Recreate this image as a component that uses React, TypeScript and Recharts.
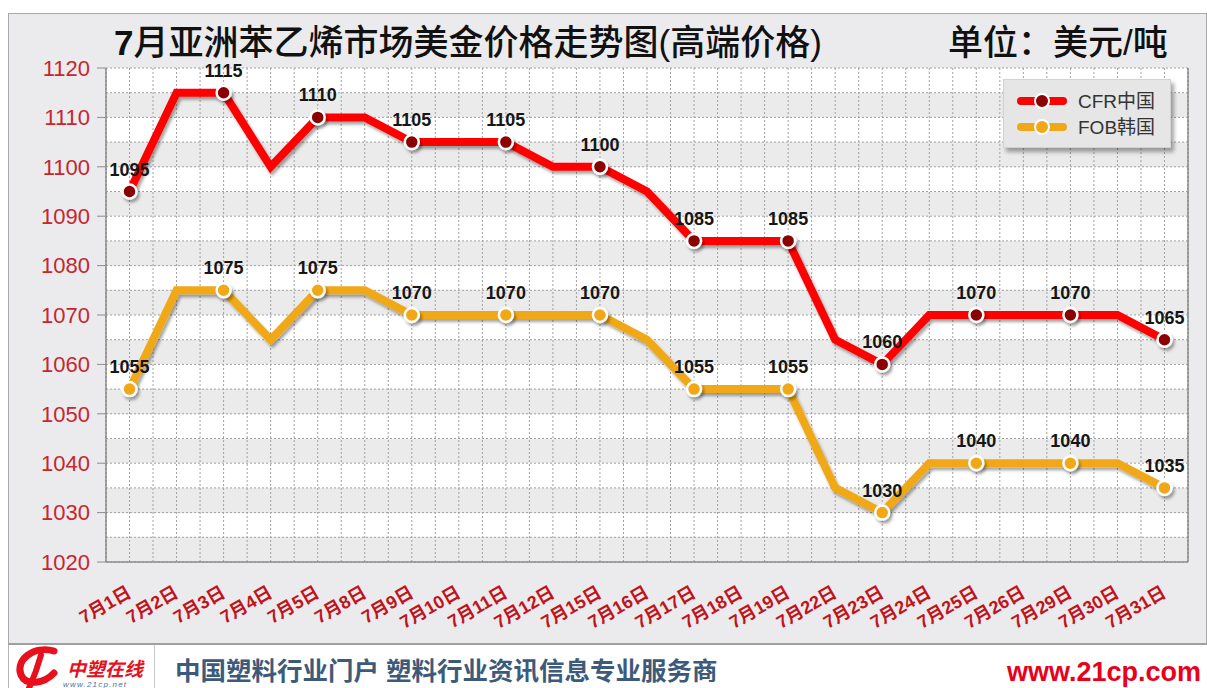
import React from 'react';
import { CartesianGrid, LabelList, Legend, Line, LineChart, ReferenceLine, XAxis, YAxis } from 'recharts';

// trading days shown on the x axis
const dates = [
  '7月1日', '7月2日', '7月3日', '7月4日', '7月5日', '7月8日', '7月9日', '7月10日',
  '7月11日', '7月12日', '7月15日', '7月16日', '7月17日', '7月18日', '7月19日', '7月22日',
  '7月23日', '7月24日', '7月25日', '7月26日', '7月29日', '7月30日', '7月31日',
];

// USD / ton, high-end quotes
const cfrChina = [
  1095, 1115, 1115, 1100, 1110, 1110, 1105, 1105, 1105, 1100, 1100, 1095,
  1085, 1085, 1085, 1065, 1060, 1070, 1070, 1070, 1070, 1070, 1065,
];
const fobKorea = [
  1055, 1075, 1075, 1065, 1075, 1075, 1070, 1070, 1070, 1070, 1070, 1065,
  1055, 1055, 1055, 1035, 1030, 1040, 1040, 1040, 1040, 1040, 1035,
];

// labelled every 10, grid every 5
const yTicks = [
  1020, 1025, 1030, 1035, 1040, 1045, 1050, 1055, 1060, 1065, 1070,
  1075, 1080, 1085, 1090, 1095, 1100, 1105, 1110, 1115, 1120,
];

const series = [
  { key: 'cfr', name: 'CFR中国', line: '#ff0000', dot: '#8b0000' },
  { key: 'fob', name: 'FOB韩国', line: '#f0a818', dot: '#f0a818' },
];

const data = dates.map((date, i) => ({ idx: i, date, cfr: cfrChina[i], fob: fobKorea[i] }));
const centers = dates.map((_, i) => i);
const bounds = [...dates.map((_, i) => i - 0.5), dates.length - 0.5];

const LATIN = '"Liberation Sans", Arial, "Noto Sans CJK SC", sans-serif';
const AXIS = '#8c8c8c';

const NoTick = () => <g />;

function DateTick({ x, y, payload }: any) {
  const ax = x + 3;
  const ay = y + 34;
  return (
    <text x={ax} y={ay} transform={`rotate(-30 ${ax} ${ay})`} textAnchor="end"
      fill="#c0141c" fontSize={18} fontWeight="bold" fontFamily={LATIN}>
      {dates[payload.value]}
    </text>
  );
}

// only the round tens get a label and a tick mark
function PriceTick({ x, y, payload }: any) {
  if (payload.value % 10 !== 0) return <g />;
  return (
    <g>
      <line x1={x + 7} y1={y} x2={x + 16} y2={y} stroke={AXIS} />
      <text x={x} y={y} dy="0.355em" textAnchor="end" fill="#c6262e" fontSize={22} fontFamily={LATIN}>
        {payload.value}
      </text>
    </g>
  );
}

// markers only on every other day, like the original
const makeDot = (fill: string) => (props: any) => {
  const { cx, cy, index } = props;
  if (index % 2 !== 0) return <g key={`d-${index}`} />;
  return (
    <circle key={`d-${index}`} cx={cx} cy={cy} r={7} fill={fill} stroke="#fff"
      strokeWidth={2.5} filter="url(#lineShadow)" />
  );
};

const valueLabel = (props: any) => {
  const { x, y, value, index } = props;
  if (index % 2 !== 0) return null;
  return (
    <text key={`l-${index}`} x={x} y={y - 16} textAnchor="middle" fontSize={18}
      fontWeight="bold" fill="#151515" fontFamily={LATIN}>
      {value}
    </text>
  );
};

function LegendBox({ payload }: any) {
  const items = payload ?? [];
  return (
    <div style={{
      width: 168, height: 69, boxSizing: 'border-box', background: '#e6e6e6',
      border: '1px solid #d2d2d2', boxShadow: '3px 4px 4px rgba(0,0,0,0.35)',
      padding: '8px 0 0 13px',
    }}>
      {items.map((it: any) => {
        const s = series.find((m) => m.key === it.dataKey) ?? series[0];
        return (
          <div key={s.key} style={{ display: 'flex', alignItems: 'center', height: 26 }}>
            <svg width={50} height={22}>
              <line x1={4} y1={11} x2={46} y2={11} stroke={s.line} strokeWidth={8} strokeLinecap="round" />
              <circle cx={25} cy={11} r={7} fill={s.dot} stroke="#fff" strokeWidth={2} />
            </svg>
            <span style={{ marginLeft: 11, fontSize: 19, color: '#333', fontFamily: LATIN, lineHeight: 1 }}>
              {it.value}
            </span>
          </div>
        );
      })}
    </div>
  );
}

export default function App() {
  return (
    <div style={{ position: 'absolute', left: 0, top: 0, width: 1207, height: 688, background: '#fff', overflow: 'hidden' }}>
      <div style={{
        position: 'absolute', left: 8, top: 13, width: 1199, height: 632, boxSizing: 'border-box',
        background: '#ebebed', border: '1px solid #a9a9a9', borderBottom: '2px solid #a0a0a0',
      }} />
      <div style={{ position: 'absolute', left: 0, top: 0 }}>
        <LineChart width={1207} height={645} data={data} margin={{ top: 68, right: 19, left: 46, bottom: 13 }}>
          <defs>
            <filter id="lineShadow" filterUnits="userSpaceOnUse" x={0} y={0} width={1207} height={645}>
              <feDropShadow dx={2} dy={3} stdDeviation={1.6} floodColor="#000" floodOpacity={0.35} />
            </filter>
          </defs>
          <XAxis xAxisId="bound" type="number" dataKey="idx" domain={[-0.5, 22.5]} ticks={bounds} interval={0}
            tick={<NoTick />} tickSize={7} tickLine={{ stroke: AXIS }} axisLine={false} height={0} />
          <XAxis xAxisId="main" type="number" dataKey="idx" domain={[-0.5, 22.5]} ticks={centers} interval={0}
            tickLine={false} tickSize={0} tickMargin={0} axisLine={{ stroke: AXIS, strokeWidth: 1.5 }}
            tick={<DateTick />} height={70} />
          <YAxis yAxisId="main" domain={[1020, 1120]} ticks={yTicks} interval={0} width={60}
            tickSize={9} tickMargin={7} tickLine={false} axisLine={{ stroke: AXIS, strokeWidth: 1.5 }}
            tick={<PriceTick />} />
          <CartesianGrid xAxisId="main" yAxisId="main" stroke="#a0a0a0" strokeDasharray="2 2"
            horizontalFill={['#ffffff', '#ebebeb']} fillOpacity={1} />
          <CartesianGrid xAxisId="bound" yAxisId="main" horizontal={false} stroke="#a0a0a0" strokeDasharray="2 2" />
          <ReferenceLine xAxisId="main" yAxisId="main" x={22.5} stroke={AXIS} strokeWidth={1.5} />
          <Legend layout="vertical" align="center" verticalAlign="middle" content={<LegendBox />}
            wrapperStyle={{ left: 1003, top: 79, width: 168, height: 69 }} />
          {series.map((s) => (
            <Line key={s.key} xAxisId="main" yAxisId="main" type="linear" dataKey={s.key} name={s.name}
              stroke={s.line} strokeWidth={8} filter="url(#lineShadow)" dot={makeDot(s.dot)}
              activeDot={false} isAnimationActive={false}>
              <LabelList dataKey={s.key} content={valueLabel} />
            </Line>
          ))}
        </LineChart>
      </div>
      <svg width={1207} height={688} style={{ position: 'absolute', left: 0, top: 0, pointerEvents: 'none' }}>
        <text x={114} y={55} fontSize={35} fill="#111" fontFamily={LATIN}>
          <tspan fontWeight="bold">7</tspan>
          <tspan fontWeight={500}>月亚洲苯乙烯市场美金价格走势图(高端价格)</tspan>
        </text>
        <text x={948} y={55} fontSize={35} fill="#111" fontFamily={LATIN} fontWeight={500}>单位：美元/吨</text>
        <line x1={8.5} y1={645} x2={8.5} y2={688} stroke="#b5b5b5" />
        <line x1={154.5} y1={645} x2={154.5} y2={688} stroke="#c8c8c8" />
        <path d="M54 651 C34 645 15 660 21 675 C26 686 44 684 54 673" fill="none" stroke="#e8101c" strokeWidth={7} strokeLinecap="round" />
        <path d="M41 655 C38 666 34 677 29 688" fill="none" stroke="#e8101c" strokeWidth={6} strokeLinecap="round" />
        <text x={67} y={676} fontSize={19} fontWeight="bold" fontStyle="italic" fill="#e8101c" fontFamily={LATIN}>中塑在线</text>
        <text x={63} y={687} fontSize={8} fontStyle="italic" fill="#4a6fa5" fontFamily={LATIN} letterSpacing={1.2}>www.21cp.net</text>
        <text x={175} y={680} fontSize={25.5} fontWeight="bold" fill="#3d5a7a" fontFamily={LATIN}>
          中国塑料行业门户 塑料行业资讯信息专业服务商
        </text>
        <text x={1201} y={681} fontSize={27} fontWeight="bold" fill="#e8001c" textAnchor="end" fontFamily={LATIN}>
          www.21cp.com
        </text>
      </svg>
    </div>
  );
}
